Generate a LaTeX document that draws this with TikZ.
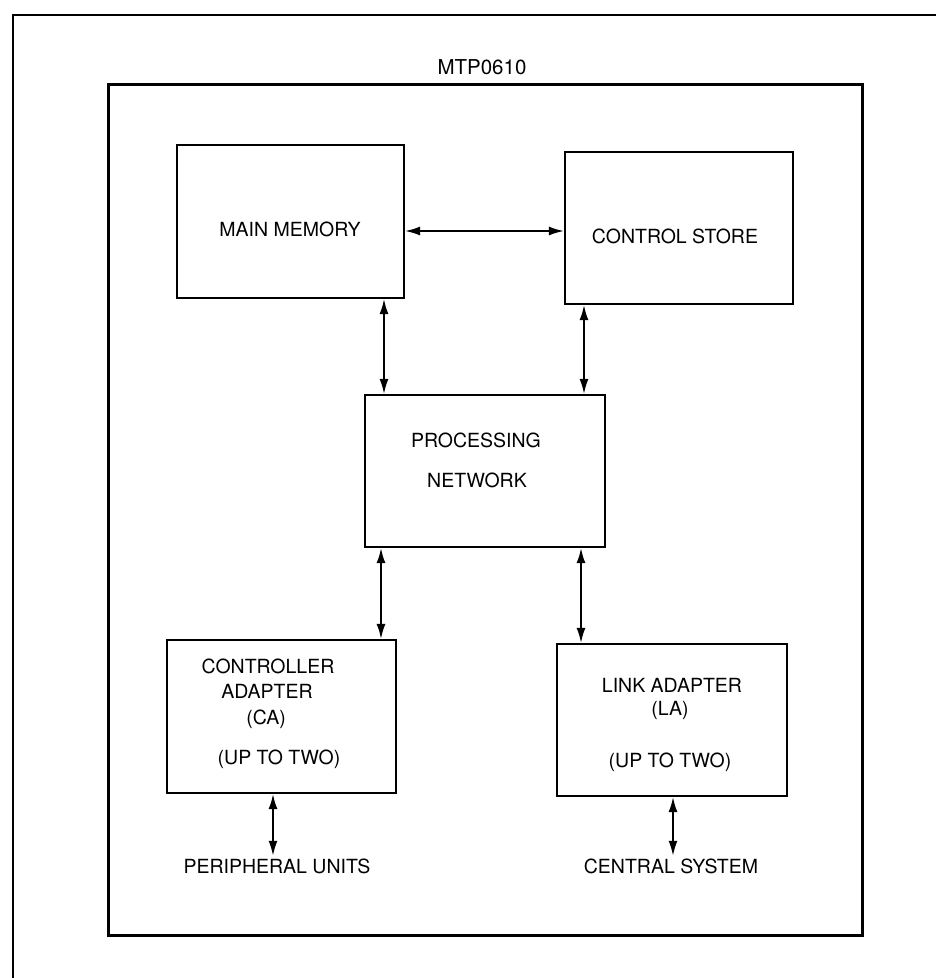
\documentclass[tikz,border=0pt]{standalone}
\usepackage{fontspec}
\setmainfont{TeX Gyre Heros}
\usetikzlibrary{arrows.meta}
\begin{document}
\begin{tikzpicture}[x=1pt,y=-1pt,
  blk/.style={draw, line width=2.2pt, inner sep=0pt},
  lbl/.style={font=\fontsize{19.5}{22}\selectfont, text height=14pt, text depth=0pt, inner sep=0pt},
  ext/.style={lbl, inner sep=3pt},
  arr/.style={{Latex[length=15pt,width=9pt]}-{Latex[length=15pt,width=9pt]}, line width=1.8pt},
  frame/.style={line width=2.6pt}]
\useasboundingbox (0,0) rectangle (936,978);
% outer frame (open at right and bottom)
\coordinate (o1) at (13,978);
\coordinate (o2) at (13,15);
\coordinate (o3) at (936,15);
\draw[frame, line join=miter] (o1) -- (o2) -- (o3);
% inner frame
\node[draw, line width=3pt, minimum width=754pt, minimum height=851pt, inner sep=0pt] (frm) at (485,509.5) {};
\node[lbl, font=\fontsize{20.5}{22}\selectfont, text height=15pt] (ttl) at (482,67) {MTP0610};
% blocks
\node[blk, minimum width=227pt, minimum height=153pt] (mm) at (290.5,221.5) {};
\node[lbl] (mmt) at (290,229) {MAIN MEMORY};
\node[blk, minimum width=228pt, minimum height=152pt] (cs) at (679,228) {};
\node[lbl] (cst) at (675,236) {CONTROL STORE};
\node[blk, minimum width=240pt, minimum height=152pt] (pn) at (485,471) {};
\node[lbl] (pnt1) at (476,440) {PROCESSING};
\node[lbl] (pnt2) at (477,480) {NETWORK};
\node[blk, minimum width=229pt, minimum height=153pt] (ca) at (281.5,716.5) {};
\node[lbl] (cat1) at (268,666) {CONTROLLER};
\node[lbl] (cat2) at (267,691) {ADAPTER};
\node[lbl] (cat3) at (266,717) {(CA)};
\node[lbl] (cat4) at (279,757) {(UP TO TWO)};
\node[blk, minimum width=230pt, minimum height=152pt] (la) at (672,720) {};
\node[lbl] (lat1) at (672,685) {LINK ADAPTER};
\node[lbl] (lat2) at (670,708) {(LA)};
\node[lbl] (lat3) at (670,760) {(UP TO TWO)};
\node[ext] (pu) at (277,866) {PERIPHERAL UNITS};
\node[ext] (csys) at (671,866) {CENTRAL SYSTEM};
% connectors
\draw[arr] ([yshift=-9.5pt]mm.east) -- ([yshift=-3pt]cs.west);
\draw[arr] ([xshift=93.5pt]mm.south) -- ([xshift=93.5pt]mm.south |- pn.north);
\draw[arr] ([xshift=-95pt]cs.south) -- ([xshift=-95pt]cs.south |- pn.north);
\draw[arr] ([xshift=-104pt]pn.south) -- ([xshift=-104pt]pn.south |- ca.north);
\draw[arr] ([xshift=96pt]pn.south) -- ([xshift=96pt]pn.south |- la.north);
\draw[arr] ([xshift=-8.5pt]ca.south) -- ([xshift=-8.5pt]ca.south |- pu.north);
\draw[arr] ([xshift=1pt]la.south) -- ([xshift=1pt]la.south |- csys.north);
\end{tikzpicture}
\end{document}
